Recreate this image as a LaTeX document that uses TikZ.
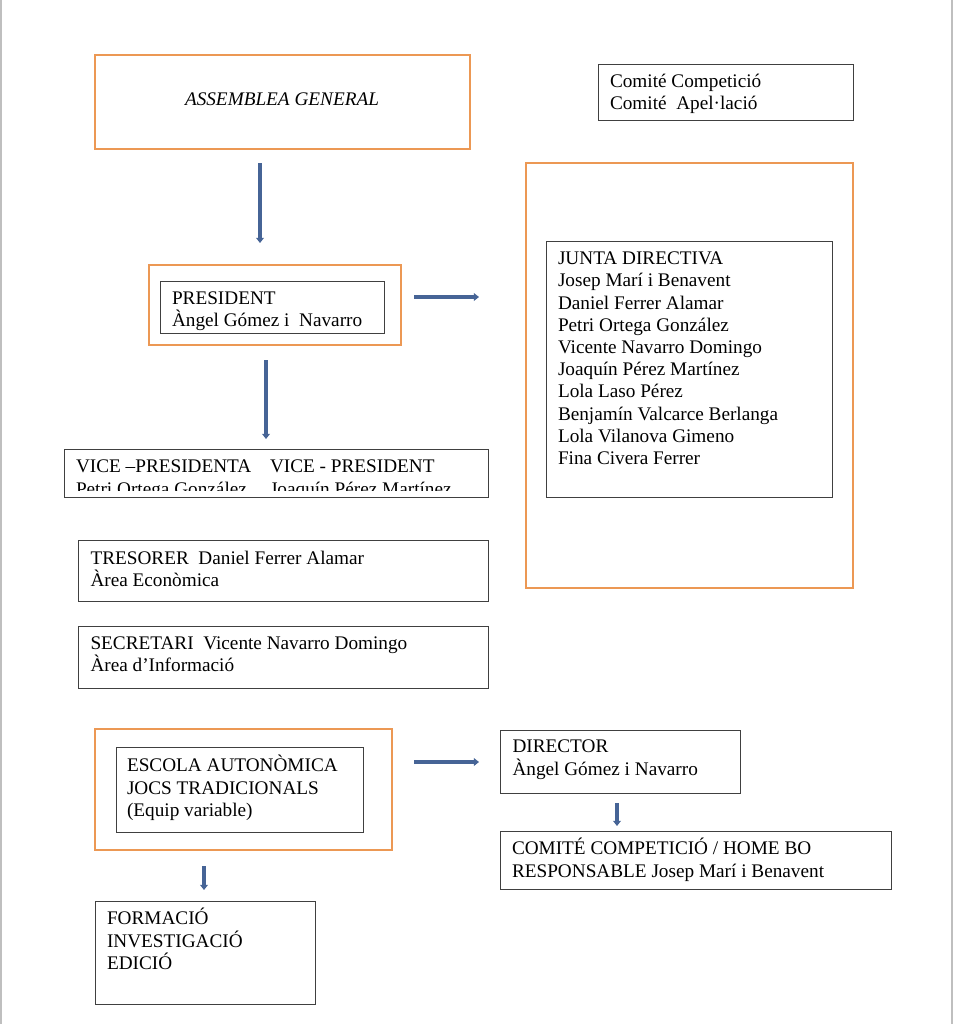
\documentclass[tikz,border=0pt]{standalone}
\usepackage{fontspec}
\setmainfont{Liberation Serif}
\usepackage{tikz}
\usetikzlibrary{arrows.meta, positioning}
\definecolor{boxorange}{RGB}{236,152,84}
\definecolor{arrowblue}{RGB}{70,100,150}
\def\px{0.6237pt}
\tikzstyle{orangebox} = [rectangle, draw=boxorange, line width=1.8pt, inner sep=0pt, outer sep=0pt, anchor=north west]
\tikzstyle{namebox} = [rectangle, draw=black!75, line width=0.6pt, inner sep=0pt, outer sep=0pt, anchor=north west]
\tikzstyle{txt} = [inner sep=0pt, outer sep=0pt, align=left, anchor=north west, font=\fontsize{12}{13.85}\selectfont, execute at begin node=\rule{0pt}{11pt}]
\tikzstyle{arrow} = [draw=arrowblue, line width=2.9pt, -{Triangle[length=3.2pt,width=4.8pt]}]

\begin{document}
\begin{tikzpicture}[x=\px, y=-\px]
\useasboundingbox (0,0) rectangle (954,1024);
\draw [black!25, line width=1.2pt] (1,0) -- (1,1024);
\draw [black!25, line width=1.2pt] (952,0) -- (952,1024);

% top row
\node (asm) [orangebox, minimum width=375*\px, minimum height=94*\px] at (95,55) {};
\node (asmtxt) [txt] at (185,87.6) {\itshape ASSEMBLEA GENERAL};
\node (comite) [namebox, minimum width=255*\px, minimum height=56*\px] at (598,64) {};
\node (comitetxt) [txt] at (610,74.1) {Comité Competició\\Comité~ Apel·lació};

% junta directiva
\node (juntaout) [orangebox, minimum width=327*\px, minimum height=425*\px] at (526,163) {};
\node (junta) [namebox, minimum width=286*\px, minimum height=256*\px] at (546,241) {};
\node (juntatxt) [txt] at (558,251.9) {JUNTA DIRECTIVA\\Josep Marí i Benavent\\Daniel Ferrer Alamar\\Petri Ortega González\\Vicente Navarro Domingo\\Joaquín Pérez Martínez\\Lola Laso Pérez\\Benjamín Valcarce Berlanga\\Lola Vilanova Gimeno\\Fina Civera Ferrer};

% president
\node (presout) [orangebox, minimum width=252*\px, minimum height=80*\px] at (149,265) {};
\node (pres) [namebox, minimum width=224*\px, minimum height=52*\px] at (160,281) {};
\node (prestxt) [txt] at (172,291.4) {PRESIDENT\\Àngel Gómez i~ Navarro};

% vice presidents
\node (vice) [namebox, minimum width=424*\px, minimum height=48*\px] at (64,449) {};
\begin{scope}
\clip (64,449) rectangle (488,490);
\node (vicea) [txt] at (76,460.1) {VICE –PRESIDENTA\\Petri Ortega González};
\node (viceb) [txt] at (270,460.1) {VICE - PRESIDENT\\Joaquín Pérez Martínez};
\end{scope}

% tresorer, secretari
\node (tres) [namebox, minimum width=410*\px, minimum height=61*\px] at (78,540) {};
\node (trestxt) [txt] at (90.5,551.1) {TRESORER~ Daniel Ferrer Alamar\\Àrea Econòmica};
\node (secr) [namebox, minimum width=410*\px, minimum height=62*\px] at (78,626) {};
\node (secrtxt) [txt] at (90.5,636.4) {SECRETARI~ Vicente Navarro Domingo\\Àrea d’Informació};

% escola
\node (escout) [orangebox, minimum width=297*\px, minimum height=121*\px] at (95,729) {};
\node (esc) [namebox, minimum width=247*\px, minimum height=85*\px] at (116,747) {};
\node (esctxt) [txt] at (127,755.4) {ESCOLA AUTONÒMICA\\JOCS TRADICIONALS\\(Equip variable)};
\node (dir) [namebox, minimum width=240*\px, minimum height=63*\px] at (500,730) {};
\node (dirtxt) [txt] at (512.5,740.1) {DIRECTOR\\Àngel Gómez i Navarro};
\node (comp) [namebox, minimum width=391*\px, minimum height=58*\px] at (500,831) {};
\node (comptxt) [txt] at (512,838.4) {COMITÉ COMPETICIÓ / HOME BO\\RESPONSABLE Josep Marí i Benavent};
\node (form) [namebox, minimum width=220*\px, minimum height=103*\px] at (95,901) {};
\node (formtxt) [txt] at (107,908.4) {FORMACIÓ\\INVESTIGACIÓ\\EDICIÓ};

% arrows
\coordinate (a1s) at (260,163);
\coordinate (a1e) at (260,243);
\coordinate (a2s) at (414,297);
\coordinate (a2e) at (479,297);
\coordinate (a3s) at (266,360);
\coordinate (a3e) at (266,439);
\coordinate (a4s) at (414,762);
\coordinate (a4e) at (479,762);
\coordinate (a5s) at (617,803);
\coordinate (a5e) at (617,826);
\coordinate (a6s) at (204,866);
\coordinate (a6e) at (204,890);
\draw [arrow] (a1s) -- (a1e);
\draw [arrow] (a2s) -- (a2e);
\draw [arrow] (a3s) -- (a3e);
\draw [arrow] (a4s) -- (a4e);
\draw [arrow] (a5s) -- (a5e);
\draw [arrow] (a6s) -- (a6e);

\end{tikzpicture}
\end{document}
